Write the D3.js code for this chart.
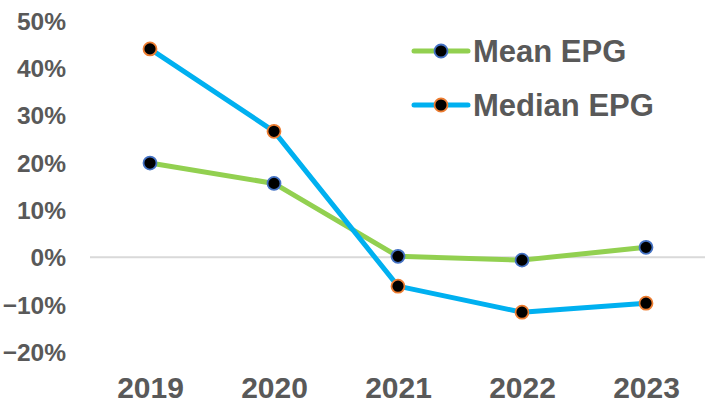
<!DOCTYPE html>
<html>
<head>
<meta charset="utf-8">
<script src="https://cdn.jsdelivr.net/npm/d3@7"></script>
<style>
  body { margin: 0; background: #fff; }
  text { font-family: "Liberation Sans", Arial, sans-serif; font-weight: bold; fill: #595959; }
</style>
</head>
<body>
<svg class="chart" width="705" height="403"></svg>
<script>
var years = ["2019", "2020", "2021", "2022", "2023"];
var meanEpg = [0.199, 0.156, 0.002, -0.006, 0.021];
var medianEpg = [0.44, 0.266, -0.061, -0.116, -0.097];
var yTicks = [-0.2, -0.1, 0, 0.1, 0.2, 0.3, 0.4, 0.5];

var series = [
  {name: "Mean EPG", values: meanEpg, line: "#92D050", ring: "#4472C4"},
  {name: "Median EPG", values: medianEpg, line: "#00B0F0", ring: "#ED7D31"}
];

var svg = d3.select("svg.chart");

var x = d3.scalePoint().domain(years).range([88, 708]).padding(0.5),
    y = d3.scaleLinear().domain([-0.2, 0.5]).range([352, 20.5]);

// zero line
svg.append("line")
    .attr("x1", 90).attr("x2", 705)
    .attr("y1", y(0)).attr("y2", y(0))
    .style("stroke", "#d9d9d9")
    .style("stroke-width", 2);

// y axis labels
var yAxis = svg.append("g")
    .attr("transform", "translate(66,0)")
    .call(d3.axisLeft(y).tickValues(yTicks).tickFormat(d3.format(".0%")).tickSize(0).tickPadding(0));
yAxis.select(".domain").remove();
yAxis.selectAll("text")
    .style("font-size", "24.5px")
    .attr("fill", null)
    .attr("dy", "0.35em");

// x axis labels
var xAxis = svg.append("g")
    .attr("transform", "translate(0,377)")
    .call(d3.axisBottom(x).tickSize(0).tickPadding(0));
xAxis.select(".domain").remove();
xAxis.selectAll("text")
    .style("font-size", "30px")
    .attr("fill", null)
    .attr("dy", "0.71em");

var line = d3.line()
    .x(function(d, i) { return x(years[i]); })
    .y(function(d) { return y(d); });

var s = svg.selectAll(".series")
  .data(series)
  .enter()
  .append("g")
  .attr("class", "series");

s.append("path")
    .attr("d", function(d) { return line(d.values); })
    .style("fill", "none")
    .style("stroke", function(d) { return d.line; })
    .style("stroke-width", 5)
    .style("stroke-linejoin", "round");

s.each(function(d) {
  d3.select(this).selectAll("circle")
    .data(d.values)
    .enter()
    .append("circle")
    .attr("cx", function(v, i) { return x(years[i]); })
    .attr("cy", function(v) { return y(v); })
    .attr("r", 6.5)
    .style("fill", "#000")
    .style("stroke", d.ring)
    .style("stroke-width", 1.8);
});

// legend
var legend = svg.selectAll(".legend")
  .data(series)
  .enter()
  .append("g")
  .attr("class", "legend")
  .attr("transform", function(d, i) { return "translate(412," + (51 + i * 54) + ")"; });

legend.append("line")
    .attr("x1", 2).attr("x2", 56)
    .style("stroke", function(d) { return d.line; })
    .style("stroke-width", 5)
    .style("stroke-linecap", "round");

legend.append("circle")
    .attr("cx", 29)
    .attr("r", 6.5)
    .style("fill", "#000")
    .style("stroke", function(d) { return d.ring; })
    .style("stroke-width", 1.8);

legend.append("text")
    .attr("x", 61)
    .attr("dy", "0.36em")
    .style("font-size", "31px")
    .text(function(d) { return d.name; });
</script>
</body>
</html>
